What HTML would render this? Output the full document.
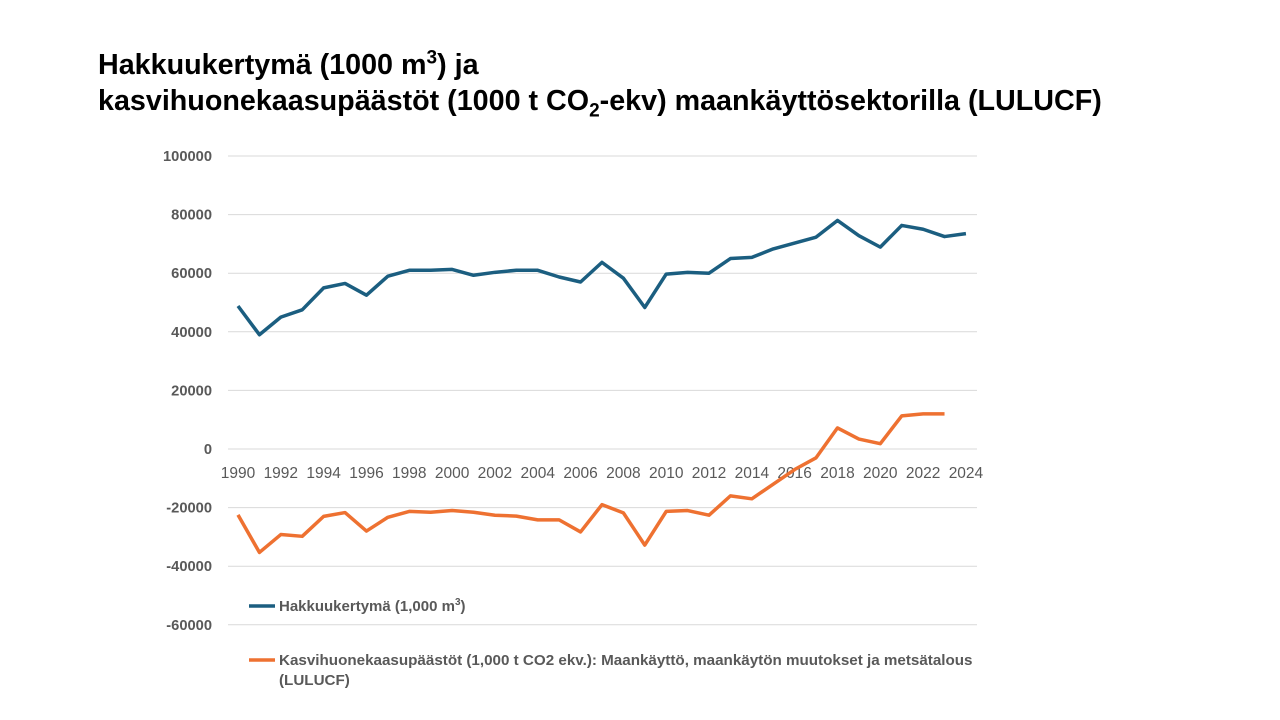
<!DOCTYPE html>
<html><head><meta charset="utf-8"><style>
body{margin:0;background:#fff;width:1280px;height:720px;overflow:hidden;font-family:"Liberation Sans",sans-serif}
.t{position:absolute;left:98px;font-weight:bold;font-size:28.7px;color:#000;line-height:35px;white-space:nowrap}
</style></head><body>
<div class="t" style="top:48px">Hakkuukertymä (1000 m<sup style="font-size:19px;line-height:0">3</sup>) ja</div>
<div class="t" style="top:84px">kasvihuonekaasupäästöt (1000 t CO<sub style="font-size:19px;line-height:0">2</sub>-ekv) maankäyttösektorilla (LULUCF)</div>
<svg id="s" width="1280" height="720" style="position:absolute;left:0;top:0"></svg>
<script>
var s=document.getElementById('s'),h='';
function Y(v){return 449-v*58.6/20000}
function X(i){return 238+i*21.41}
for(var v=-60000;v<=100000;v+=20000){var y=Y(v);
h+='<line x1="228" x2="977" y1="'+y+'" y2="'+y+'" stroke="#d9d9d9" stroke-width="1"/>';
h+='<text x="212" y="'+(y+5)+'" text-anchor="end" font-size="14.7" font-weight="bold" fill="#595959" font-family="Liberation Sans">'+v+'</text>';}
for(var i=0;i<=34;i+=2)h+='<text x="'+X(i)+'" y="478" text-anchor="middle" font-size="15.5" fill="#595959" font-family="Liberation Sans">'+(1990+i)+'</text>';
var b=[48800,39000,45000,47500,55000,56500,52500,59000,61000,61000,61300,59300,60300,61000,61000,58700,57000,63700,58300,48300,59700,60300,60000,65000,65400,68300,70300,72300,78000,72800,68900,76300,75000,72500,73500];
var o=[-22500,-35300,-29200,-29800,-23000,-21700,-28000,-23300,-21300,-21600,-21000,-21600,-22600,-22900,-24200,-24200,-28300,-19000,-21800,-32800,-21300,-21000,-22600,-16000,-17000,-12000,-7000,-3000,7200,3400,1800,11300,12000,12000];
function pl(a,c){return '<polyline fill="none" stroke="'+c+'" stroke-width="3.5" stroke-linejoin="round" points="'+a.map(function(v,i){return X(i)+','+Y(v)}).join(' ')+'"/>'}
h+=pl(b,'#1b5e80')+pl(o,'#ee7131');
h+='<line x1="249" x2="275" y1="606" y2="606" stroke="#1b5e80" stroke-width="3.5"/>';
h+='<text x="279" y="611" font-size="15" font-weight="bold" fill="#595959" font-family="Liberation Sans">Hakkuukertymä (1,000 m<tspan dy="-6" font-size="10">3</tspan><tspan dy="6">)</tspan></text>';
h+='<line x1="249" x2="275" y1="660" y2="660" stroke="#ee7131" stroke-width="3.5"/>';
h+='<text x="279" y="665" font-size="15.2" font-weight="bold" fill="#595959" font-family="Liberation Sans">Kasvihuonekaasupäästöt (1,000 t CO2 ekv.): Maankäyttö, maankäytön muutokset ja metsätalous</text>';
h+='<text x="279" y="685" font-size="15.2" font-weight="bold" fill="#595959" font-family="Liberation Sans">(LULUCF)</text>';
s.innerHTML=h;
</script>
</body></html>
